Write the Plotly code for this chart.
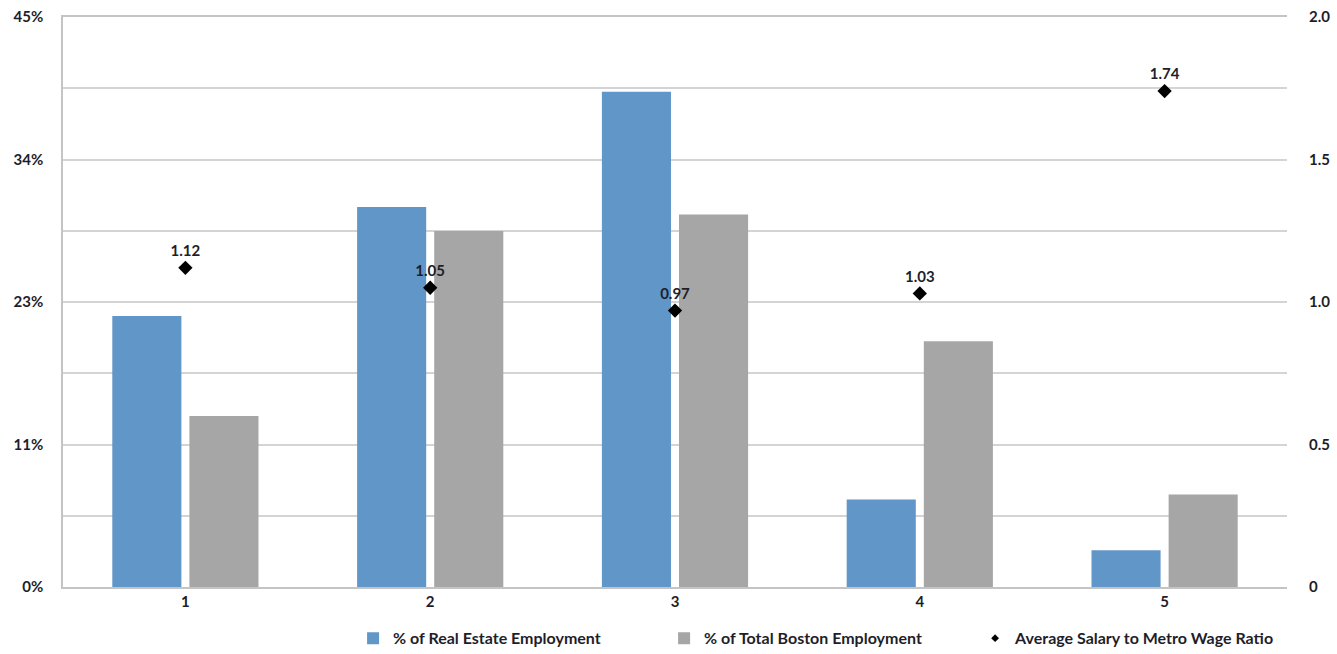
import plotly.graph_objects as go

categories = ["1", "2", "3", "4", "5"]
real_estate_pct = [21.4, 30.0, 39.1, 6.9, 2.9]
boston_pct = [13.5, 28.1, 29.4, 19.4, 7.3]
salary_ratio = [1.12, 1.05, 0.97, 1.03, 1.74]

left_tickvals = [0, 5.625, 11.25, 16.875, 22.5, 28.125, 33.75, 39.375, 45]
left_ticktext = ["0%", "", "11%", "", "23%", "", "34%", "", "45%"]
right_tickvals = [0, 0.25, 0.5, 0.75, 1.0, 1.25, 1.5, 1.75, 2.0]
right_ticktext = ["0", "", "0.5", "", "1.0", "", "1.5", "", "2.0"]

FONT = "Lato, 'Open Sans', sans-serif"
TXT = "#1e1e2a"

fig = go.Figure()
fig.add_trace(go.Bar(
    x=categories, y=real_estate_pct, name="% of Real Estate Employment",
    marker=dict(color="#6196C8", line=dict(width=0)),
))
fig.add_trace(go.Bar(
    x=categories, y=boston_pct, name="% of Total Boston Employment",
    marker=dict(color="#A6A6A6", line=dict(width=0)),
))
fig.add_trace(go.Scatter(
    x=categories, y=salary_ratio, yaxis="y2", mode="markers+text",
    name="Average Salary to Metro Wage Ratio", showlegend=False,
    marker=dict(symbol="diamond", size=11, color="#000000"),
    text=[f"{v:.2f}" for v in salary_ratio], textposition="top center",
    textfont=dict(family=FONT, size=15, color=TXT, weight="bold"),
))
# legend entry with the small marker used in the reference legend
fig.add_trace(go.Scatter(
    x=[None], y=[None], yaxis="y2", mode="markers",
    name="Average Salary to Metro Wage Ratio",
    marker=dict(symbol="diamond", size=6, color="#000000"),
))

fig.update_layout(
    width=1337, height=654,
    margin=dict(l=63, r=50, t=17, b=67, autoexpand=False),
    paper_bgcolor="white", plot_bgcolor="white",
    barmode="group", bargap=0.37, bargroupgap=0.104,
    font=dict(family=FONT, size=15, color=TXT, weight="bold"),
    xaxis=dict(
        type="category", showgrid=False, showline=True, linecolor="#c4c4c4",
        linewidth=1.5, mirror=True, ticks="", tickfont=dict(size=15, weight="bold"),
    ),
    yaxis=dict(
        range=[0, 45], tickvals=left_tickvals, ticktext=left_ticktext,
        showgrid=True, gridcolor="#d4d4d4", gridwidth=1.5,
        showline=True, linecolor="#c4c4c4", linewidth=1.5,
        ticks="outside", ticklen=15, tickcolor="rgba(0,0,0,0)",
        zeroline=False, tickfont=dict(size=15, weight="bold"),
    ),
    yaxis2=dict(
        range=[0, 2], tickvals=right_tickvals, ticktext=right_ticktext,
        overlaying="y", side="right", showgrid=False, showline=False,
        ticks="outside", ticklen=18, tickcolor="rgba(0,0,0,0)",
        zeroline=False, tickfont=dict(size=15, weight="bold"),
    ),
    showlegend=True,
    legend=dict(
        orientation="h", x=0.237, xanchor="left", y=-0.09, yanchor="middle",
        entrywidth=266, entrywidthmode="pixels",
        font=dict(size=16, weight="bold", color=TXT),
    ),
)

fig.write_html("out.html")
